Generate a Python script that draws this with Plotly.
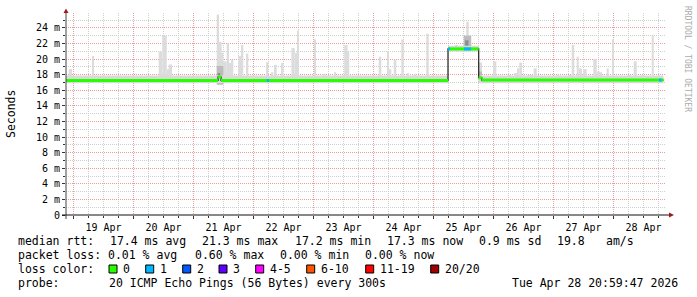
import re
import pandas as pd
import plotly.graph_objects as go

# ---------------- data ----------------
range_start = "2026-04-18 21:00"
range_end = "2026-04-28 21:00"

# median RTT (ms), step function: value holds until next time
median_times = ["2026-04-18 21:00", "2026-04-21 09:50", "2026-04-21 11:00",
                "2026-04-25 05:48", "2026-04-25 18:05", "2026-04-25 19:20",
                "2026-04-28 20:00"]
median_values = [17.25, 17.7, 17.25, 21.3, 17.6, 17.3, 17.3]

# periods with loss class "1" (blue) on the median line
loss1_starts = ["2026-04-22 05:17", "2026-04-25 05:48", "2026-04-25 12:12", "2026-04-28 18:12"]
loss1_minutes = [55, 48, 170, 63]

# constant smoke band around the median (ms)
band_times = ["2026-04-18 21:00", "2026-04-25 05:48", "2026-04-25 18:05", "2026-04-28 20:00"]
band_low = [16.9, 20.95, 16.9, 16.9]
band_high = [17.9, 21.7, 17.9, 17.9]

# smoke spikes (max ping) : start, duration (min), top (ms)
spike_starts = [
    "2026-04-18 22:05", "2026-04-19 07:24", "2026-04-20 10:05", "2026-04-20 11:30",
    "2026-04-20 13:24", "2026-04-20 14:05", "2026-04-21 09:17", "2026-04-21 10:12",
    "2026-04-21 11:17", "2026-04-21 11:55", "2026-04-21 13:17", "2026-04-21 14:12",
    "2026-04-21 15:17", "2026-04-21 17:55", "2026-04-21 19:17", "2026-04-21 21:17",
    "2026-04-22 05:17", "2026-04-22 07:17", "2026-04-22 08:12", "2026-04-22 11:17",
    "2026-04-22 15:10", "2026-04-22 16:36", "2026-04-22 17:31", "2026-04-23 00:17",
    "2026-04-23 03:36", "2026-04-23 08:17", "2026-04-23 12:17", "2026-04-23 13:36",
    "2026-04-24 02:05", "2026-04-24 05:24", "2026-04-24 06:12", "2026-04-24 08:05",
    "2026-04-24 11:07", "2026-04-24 13:24", "2026-04-24 16:05", "2026-04-24 21:07",
    "2026-04-25 08:36", "2026-04-25 12:05", "2026-04-25 13:07", "2026-04-25 14:05",
    "2026-04-25 18:05", "2026-04-25 23:48", "2026-04-26 05:41", "2026-04-26 08:19",
    "2026-04-26 09:24", "2026-04-26 10:19", "2026-04-26 13:41", "2026-04-26 16:05",
    "2026-04-27 01:17", "2026-04-27 05:55", "2026-04-27 07:17", "2026-04-27 09:17",
    "2026-04-27 10:05", "2026-04-27 11:55", "2026-04-27 15:55", "2026-04-27 17:17",
    "2026-04-27 18:36", "2026-04-27 21:17", "2026-04-27 23:24", "2026-04-28 05:41",
    "2026-04-28 08:05", "2026-04-28 11:00", "2026-04-28 15:17",
]
spike_minutes = [
    80, 48, 80, 108, 41, 80, 55, 65, 38, 82, 55, 65, 38, 82, 38, 38,
    38, 38, 65, 38, 80, 55, 41, 38, 80, 38, 80, 41,
    62, 48, 55, 62, 58, 41, 62, 58,
    72, 62, 58, 62,
    80, 80, 80, 65, 55, 65, 120, 72,
    48, 82, 62, 48, 80, 82, 82, 80, 48, 48, 41, 80, 72, 80, 48,
]
spike_tops = [
    18.7, 20.4, 20.96, 22.97, 18.7, 19.3, 25.7, 22.2, 20.8, 19.7, 22.0, 19.5,
    19.9, 20.4, 21.8, 20.7, 19.6, 18.3, 19.26, 19.5, 21.4, 20.8, 23.65, 22.5,
    18.1, 18.3, 21.8, 20.96, 20.3, 21.0, 18.7, 19.9, 22.5, 18.2, 18.1, 23.25,
    21.8, 22.3, 24.8, 22.0, 19.55, 19.7, 18.0, 18.2, 18.8, 19.55, 17.95, 18.8,
    18.0, 17.95, 21.8, 20.3, 18.8, 18.7, 20.0, 18.4, 18.3, 18.8, 22.55, 17.95,
    19.7, 17.95, 23.1,
]

# darker smoke patches: start, duration (min), low, high (ms)
dark_starts = ["2026-04-21 09:17", "2026-04-25 12:05", "2026-04-25 18:05"]
dark_minutes = [160, 180, 80]
dark_lows = [16.7, 21.3, 17.0]
dark_highs = [19.1, 23.0, 18.4]

core_starts = ["2026-04-21 09:40", "2026-04-25 12:40"]
core_minutes = [60, 80]
core_lows = [16.9, 21.4]
core_highs = [18.2, 22.4]

y_tick_values = [0, 2, 4, 6, 8, 10, 12, 14, 16, 18, 20, 22, 24]
y_tick_labels = ["0"] + [f"{v} m" for v in y_tick_values[1:]]

# ---------------- helpers ----------------
mt = pd.to_datetime(median_times)


def median_at(t):
    i = mt.searchsorted(pd.Timestamp(t), side="right") - 1
    return median_values[max(i, 0)]


def bar_trace(starts, minutes, lows, highs, color):
    st = pd.to_datetime(starts)
    centers = [s + pd.Timedelta(minutes=m / 2) for s, m in zip(st, minutes)]
    return go.Bar(x=centers, y=[h - l for h, l in zip(highs, lows)], base=lows,
                  width=[m * 60000 for m in minutes], marker=dict(color=color, line=dict(width=0)),
                  hoverinfo="skip")


fig = go.Figure()

# smoke band
fig.add_trace(go.Scatter(x=band_times, y=band_low, mode="lines", line=dict(width=0, shape="hv"),
                         hoverinfo="skip"))
fig.add_trace(go.Scatter(x=band_times, y=band_high, mode="lines", line=dict(width=0, shape="hv"),
                         fill="tonexty", fillcolor="#d9d9d9", hoverinfo="skip"))

# spikes
spike_bases = [median_at(s) for s in spike_starts]
fig.add_trace(bar_trace(spike_starts, spike_minutes, spike_bases, spike_tops, "#dcdcdc"))
fig.add_trace(bar_trace(dark_starts, dark_minutes, dark_lows, dark_highs, "#bcbcbc"))
fig.add_trace(bar_trace(core_starts, core_minutes, core_lows, core_highs, "#8c8c8c"))

# median: dark thin step line + coloured thick horizontal segments
fig.add_trace(go.Scatter(x=median_times, y=median_values, mode="lines",
                         line=dict(color="#202020", width=1.2, shape="hv"), hoverinfo="skip"))
gx, gy = [], []
for i in range(len(mt) - 1):
    gx += [mt[i], mt[i + 1], None]
    gy += [median_values[i], median_values[i], None]
fig.add_trace(go.Scatter(x=gx, y=gy, mode="lines", line=dict(color="#26ff00", width=3),
                         connectgaps=False, hoverinfo="skip"))
bx, by = [], []
for s, m in zip(pd.to_datetime(loss1_starts), loss1_minutes):
    v = median_at(s)
    bx += [s, s + pd.Timedelta(minutes=m), None]
    by += [v, v, None]
fig.add_trace(go.Scatter(x=bx, y=by, mode="lines", line=dict(color="#00b8ff", width=3),
                         connectgaps=False, hoverinfo="skip"))

# ---------------- layout ----------------
L, R, T, B = 66, 666, 13, 215
W, H = 697, 297


def px(x):
    return (x - L) / (R - L)


def py(y):
    return (B - y) / (B - T)


mono = "DejaVu Sans Mono"
red_grid = "#e89c9c"
grey_grid = "#cfcfcf"

fig.update_layout(
    width=W, height=H, margin=dict(l=L, r=W - R, t=T, b=H - B, pad=0),
    paper_bgcolor="white", plot_bgcolor="white", showlegend=False,
    barmode="overlay",
    xaxis=dict(type="date", range=[range_start, range_end], tickmode="linear",
               tick0="2026-04-19", dtick=86400000, tickformat="%d %b", ticklabelmode="period",
               showgrid=True, gridcolor=red_grid, griddash="1px,1px", gridwidth=1,
               ticks="outside", ticklen=3, tickcolor="#333", showline=False, zeroline=False,
               tickfont=dict(family=mono, size=10, color="#000"),
               minor=dict(tickmode="linear", tick0="2026-04-19", dtick=21600000, showgrid=True,
                          gridcolor=grey_grid, griddash="1px,1px", ticks="outside", ticklen=2,
                          tickcolor="#333"),
               fixedrange=True),
    yaxis=dict(range=[0, 25.9], tickmode="array", tickvals=y_tick_values, ticktext=y_tick_labels,
               showgrid=True, gridcolor=red_grid, griddash="1px,1px", gridwidth=1,
               ticks="outside", ticklen=3, tickcolor="#333", showline=False, zeroline=False,
               tickfont=dict(family=mono, size=10, color="#000"),
               minor=dict(tickmode="linear", tick0=0, dtick=1, showgrid=True, gridcolor=grey_grid,
                          griddash="1px,1px", ticks="outside", ticklen=2, tickcolor="#333"),
               fixedrange=True),
)

shapes = [
    dict(type="line", xref="paper", yref="paper", x0=0, x1=0, y0=py(219), y1=py(11),
         line=dict(color="#444", width=1), layer="above"),
    dict(type="line", xref="paper", yref="paper", x0=px(62), x1=px(671), y0=0, y1=0,
         line=dict(color="#111", width=1), layer="above"),
    dict(type="path", xref="paper", yref="paper", layer="above",
         path=f"M {px(63.5)} {py(13)} L {px(68.5)} {py(13)} L {px(66)} {py(8.5)} Z",
         fillcolor="#a01818", line=dict(width=0)),
    dict(type="path", xref="paper", yref="paper", layer="above",
         path=f"M {px(669)} {py(212.5)} L {px(669)} {py(217.5)} L {px(674)} {py(215)} Z",
         fillcolor="#a01818", line=dict(width=0)),
]

ann = []


def text(x, y, s, size=11.5, anchor="left", color="#000", angle=0):
    ann.append(dict(xref="paper", yref="paper", x=px(x), y=py(y), text=s, showarrow=False,
                    xanchor=anchor, yanchor="middle", textangle=angle,
                    font=dict(family=mono, size=size, color=color)))


def grid_line(s, y, pitch, x0=16):
    for m in re.finditer(r"\S+(?: \S+)*", s):
        text(x0 + m.start() * pitch, y, m.group())


grid_line("median rtt:  17.4 ms avg  21.3 ms max  17.2 ms min  17.3 ms now  0.9 ms sd  19.8   am/s",
          241, 7.09)
grid_line("packet loss: 0.01 % avg  0.60 % max  0.00 % min  0.00 % now", 255, 7.09)
grid_line("probe:       20 ICMP Echo Pings (56 Bytes) every 300s", 283, 7.0)
text(680, 283, "Tue Apr 28 20:59:47 2026", anchor="right")

text(16, 269, "loss color:")
loss_labels = ["0", "1", "2", "3", "4-5", "6-10", "11-19", "20/20"]
loss_colors = ["#26ff00", "#00b8ff", "#0059ff", "#5e00ff", "#ff00ff", "#ff5500", "#ff0000", "#a00000"]
box_x = [109, 145.7, 182.7, 219, 255.7, 306.7, 365.7, 430.7]
for lbl, col, bxp in zip(loss_labels, loss_colors, box_x):
    shapes.append(dict(type="rect", xref="paper", yref="paper", x0=px(bxp), x1=px(bxp + 8),
                       y0=py(273), y1=py(265), fillcolor=col, line=dict(color="#000", width=1),
                       layer="above"))
    text(bxp + 12, 269, lbl)

text(11, 114, "Seconds", size=11.5, anchor="center", angle=-90)
text(687, 59, "RRDTOOL / TOBI OETIKER", size=8, anchor="center", color="#ababab", angle=90)

fig.update_layout(shapes=shapes, annotations=ann)
fig.write_html("out.html")
